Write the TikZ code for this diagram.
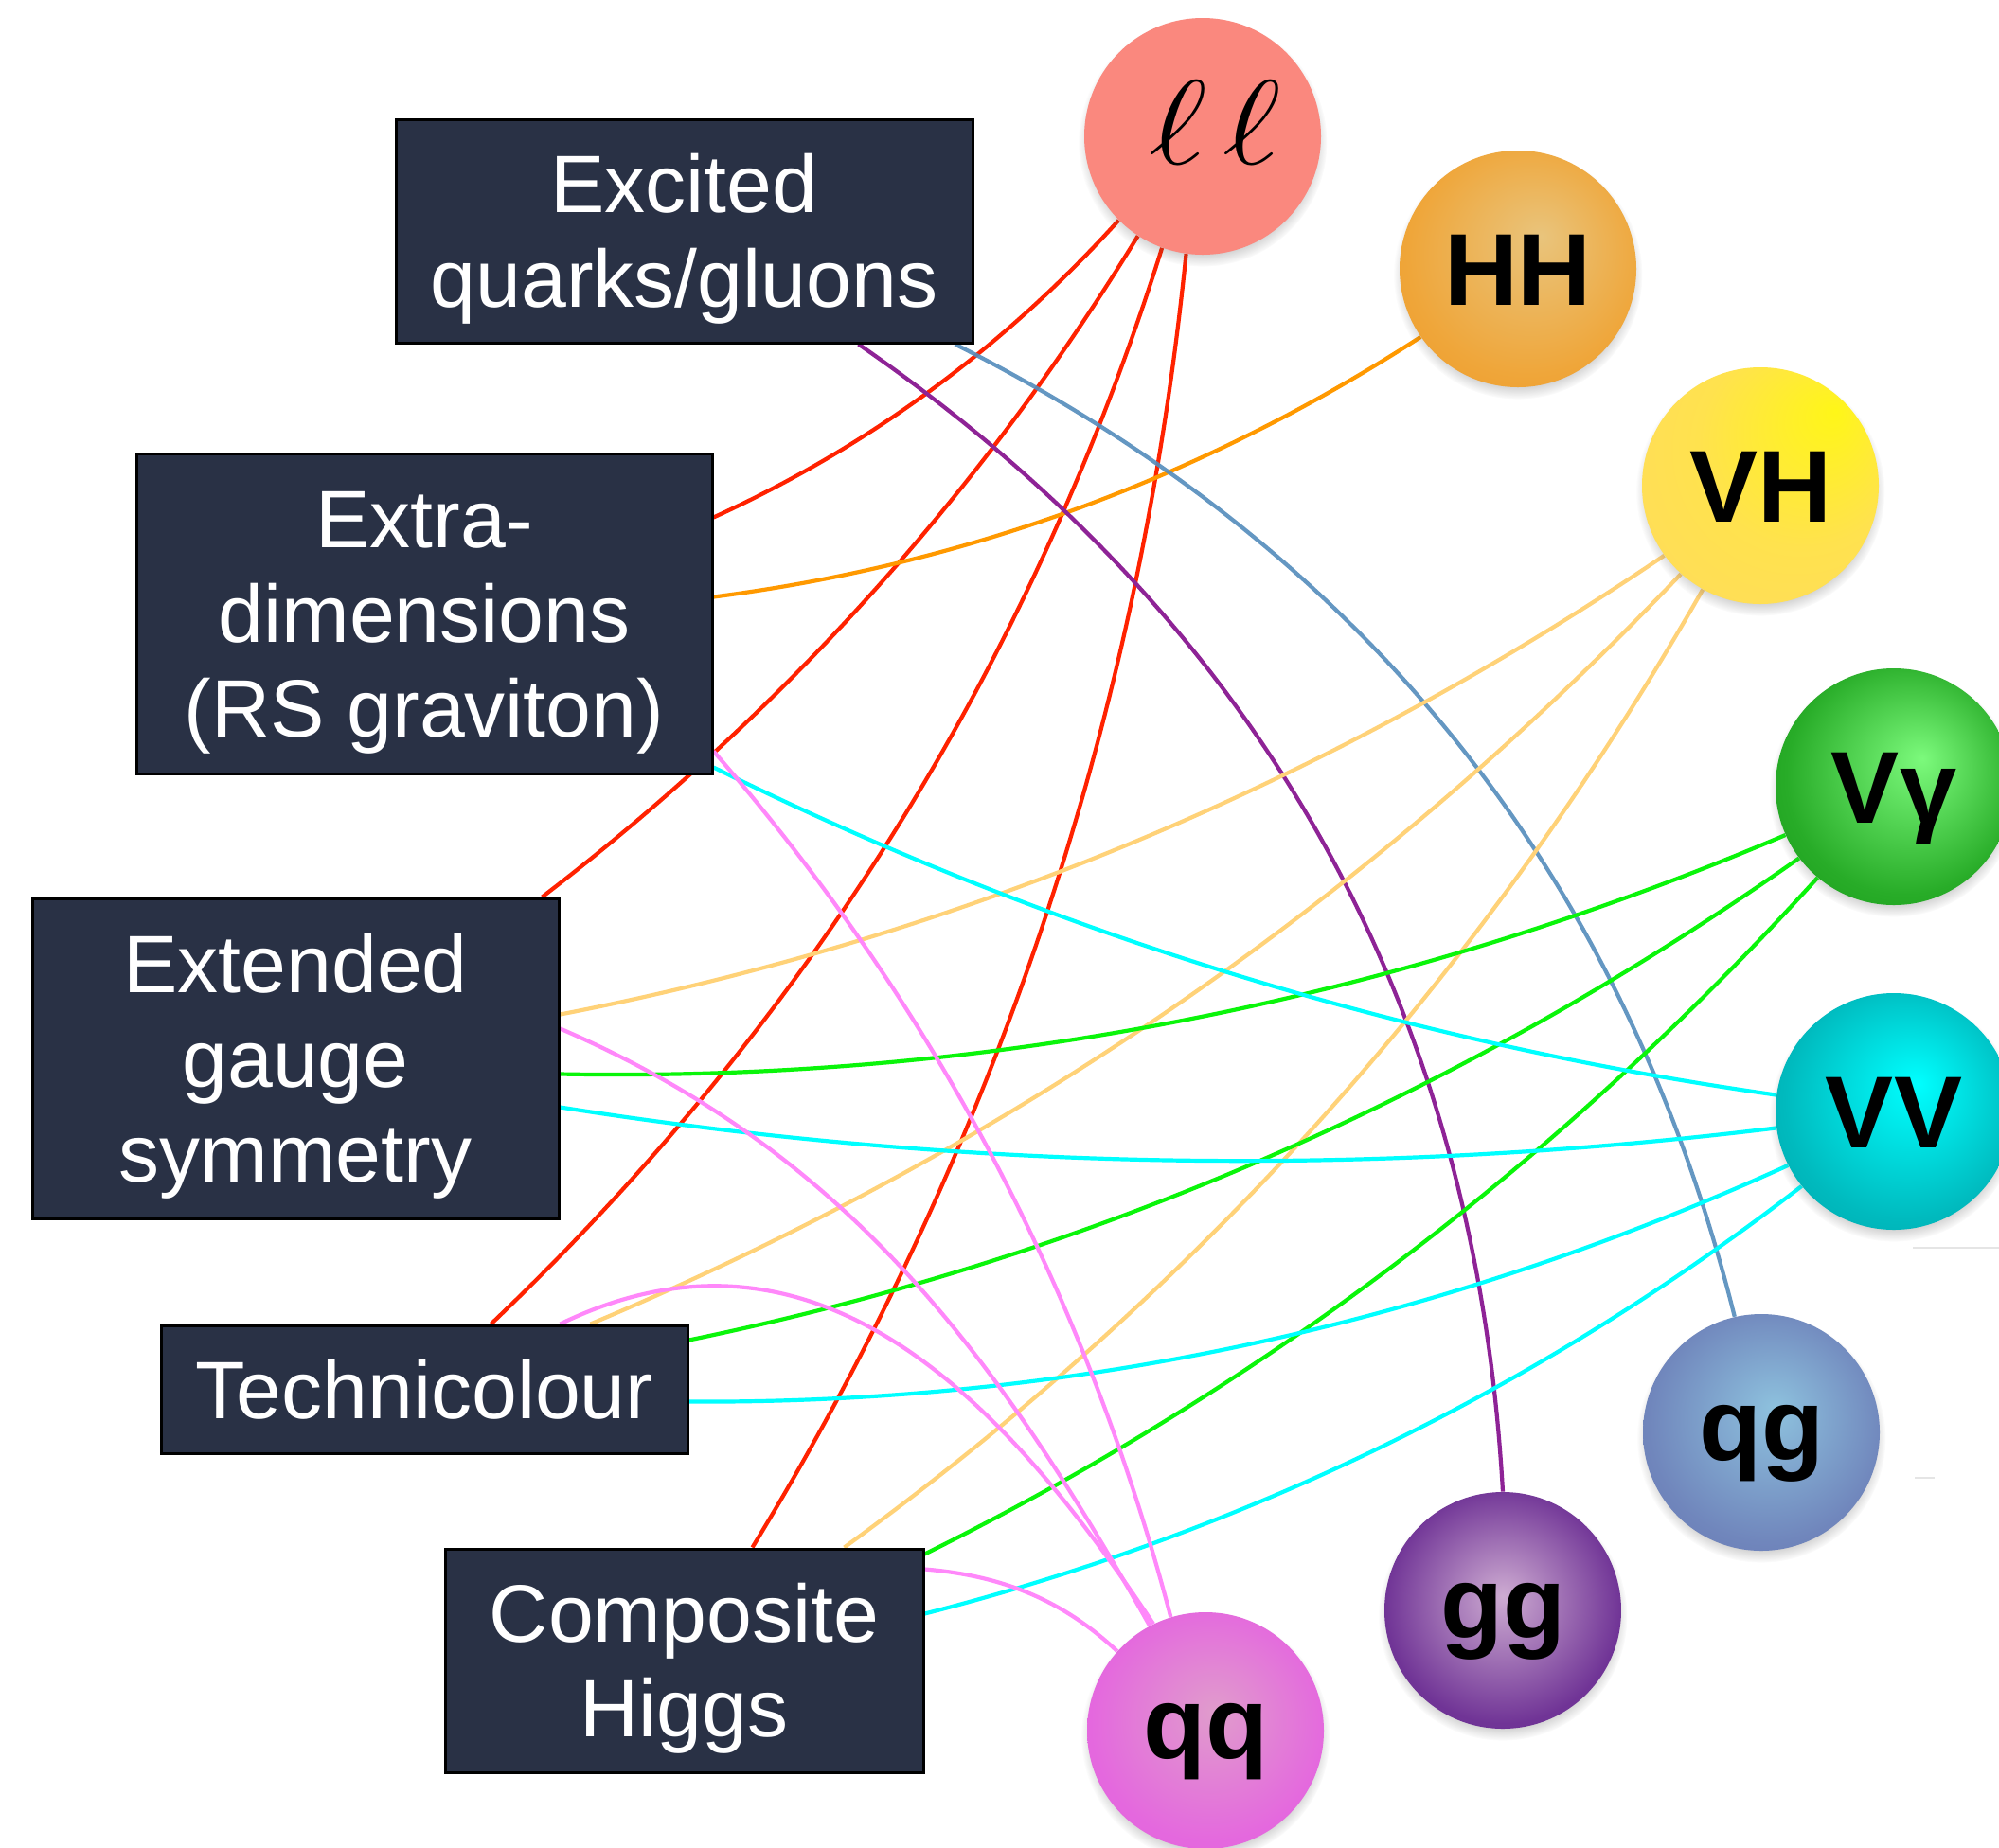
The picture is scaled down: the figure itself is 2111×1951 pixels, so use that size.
\documentclass[tikz,border=0pt]{standalone}
\usepackage{fontspec}
\setmainfont{Liberation Sans}
\usetikzlibrary{calc,shadows,fadings}

% panel and ball colours
\definecolor{panel}{RGB}{41,49,69}
\definecolor{llfill}{RGB}{250,136,126}
\definecolor{hhA}{RGB}{233,196,124}
\definecolor{hhB}{RGB}{239,166,58}
\definecolor{hhC}{RGB}{238,150,34}
\definecolor{vhA}{RGB}{255,246,24}
\definecolor{vhB}{RGB}{255,226,78}
\definecolor{vhC}{RGB}{255,216,100}
\definecolor{vgA}{RGB}{124,250,124}
\definecolor{vgB}{RGB}{40,172,40}
\definecolor{vgC}{RGB}{20,150,20}
\definecolor{vvA}{RGB}{0,255,255}
\definecolor{vvB}{RGB}{0,186,190}
\definecolor{vvC}{RGB}{0,160,165}
\definecolor{qgA}{RGB}{142,194,222}
\definecolor{qgB}{RGB}{112,134,188}
\definecolor{qgC}{RGB}{100,114,176}
\definecolor{ggA}{RGB}{206,172,210}
\definecolor{ggB}{RGB}{112,52,150}
\definecolor{ggC}{RGB}{100,40,144}
\definecolor{qqA}{RGB}{224,156,204}
\definecolor{qqB}{RGB}{228,104,222}
\definecolor{qqC}{RGB}{230,96,226}

% connector colours
\definecolor{wRed}{RGB}{255,34,0}
\definecolor{wOrange}{RGB}{255,153,0}
\definecolor{wPurple}{RGB}{142,35,150}
\definecolor{wSteel}{RGB}{84,140,188}
\definecolor{wSand}{RGB}{255,210,120}
\definecolor{wGreen}{RGB}{10,245,10}
\definecolor{wCyan}{RGB}{0,255,255}
\definecolor{wPink}{RGB}{255,136,250}

% radial shadings for the balls (ball edge sits at 25bp)
\pgfdeclareradialshading{hhshade}{\pgfpoint{5bp}{7bp}}{color(0bp)=(hhA); color(25bp)=(hhB); color(40bp)=(hhC)}
\pgfdeclareradialshading{vhshade}{\pgfpoint{16bp}{16bp}}{color(0bp)=(vhA); color(22bp)=(vhB); color(50bp)=(vhC)}
\pgfdeclareradialshading{vgshade}{\pgfpoint{6bp}{6bp}}{color(0bp)=(vgA); color(25bp)=(vgB); color(40bp)=(vgC)}
\pgfdeclareradialshading{vvshade}{\pgfpoint{5bp}{6bp}}{color(0bp)=(vvA); color(25bp)=(vvB); color(40bp)=(vvC)}
\pgfdeclareradialshading{qgshade}{\pgfpoint{3bp}{5bp}}{color(0bp)=(qgA); color(25bp)=(qgB); color(40bp)=(qgC)}
\pgfdeclareradialshading{ggshade}{\pgfpoint{0bp}{3bp}}{color(0bp)=(ggA); color(25bp)=(ggB); color(40bp)=(ggC)}
\pgfdeclareradialshading{qqshade}{\pgfpoint{2bp}{4bp}}{color(0bp)=(qqA); color(25bp)=(qqB); color(40bp)=(qqC)}

% invisible strut that drops multi-line panel text a little
\newcommand\panelstrut{\rule{0pt}{39.5pt}}

\pgfdeclarelayer{back}
\pgfdeclarelayer{wires}
\pgfsetlayers{back,wires,main}

\begin{document}
\begin{tikzpicture}[x=0.5pt, y=-0.5pt,
  panelbox/.style={draw=black, line width=1.5pt, fill=panel, text=white,
    align=center, inner sep=0pt, font=\fontsize{43}{50}\selectfont},
  orb/.style={circle, minimum size=125pt, inner sep=0pt,
    font=\fontsize{54}{54}\selectfont\bfseries,
    circular drop shadow={shadow xshift=0pt, shadow yshift=-3pt,
      shadow scale=1.05, opacity=0.35, fill=black!70}},
  captxt/.style={text height=38pt, text depth=0pt},
  lowtxt/.style={text height=29pt, text depth=0pt},
  wire/.style={line width=2.1pt}]

\useasboundingbox (0,0) rectangle (2111,1951);
\begin{pgfonlayer}{back}
  \fill[white] (0,0) rectangle (2111,1951);
  % faint rules at the right margin
  \draw[black!10, line width=0.8pt] (2020,1318) -- (2111,1318);
  \draw[black!10, line width=0.8pt] (2022,1561) -- (2043,1561);
\end{pgfonlayer}

% model panels
\node[panelbox, minimum width=304.5pt, minimum height=118pt] (exq) at (722.5,244) {\panelstrut Excited\\quarks/gluons};
\node[panelbox, minimum width=304pt, minimum height=169pt] (exd) at (448,648) {\panelstrut Extra-\\dimensions\\(RS graviton)};
\node[panelbox, minimum width=278pt, minimum height=169pt] (egs) at (312,1118) {\panelstrut Extended\\gauge\\symmetry};
\node[panelbox, minimum width=278pt, minimum height=67.5pt] (tec) at (448,1467.5) {Technicolour};
\node[panelbox, minimum width=252.5pt, minimum height=118pt] (chg) at (722.5,1754) {\panelstrut Composite\\Higgs};

% final-state balls
\node[orb, fill=llfill, text height=29pt, text depth=0pt, font=\normalfont] (ll) at (1270,144) {\kern13pt\scalebox{3.0}[2.55]{\Huge$\ell\mkern2mu\ell$}};
\node[orb, shade, shading=hhshade, captxt] (hh) at (1603,284) {HH};
\node[orb, shade, shading=vhshade, captxt] (vh) at (1859,513) {VH};
\node[orb, shade, shading=vgshade, captxt] (vg) at (2000,831) {Vγ};
\node[orb, shade, shading=vvshade, captxt] (vv) at (2000,1174) {VV};
\node[orb, shade, shading=qgshade, lowtxt] (qg) at (1860,1513) {qg};
\node[orb, shade, shading=ggshade, lowtxt] (gg) at (1587,1701) {gg};
\node[orb, shade, shading=qqshade, lowtxt] (qq) at (1273,1828) {qq};

\begin{pgfonlayer}{wires}
  % dilepton
  \draw[wire, wRed] ($(exd.north east)+(0,69)$) .. controls (917,472) and (1060,367) .. (ll.225);
  \draw[wire, wRed] ($(egs.north east)+(-19,0)$) .. controls (825,754) and (1035,522) .. (ll.237);
  \draw[wire, wRed] ($(tec.north west)+(350,0)$) .. controls (853,1080) and (1089,701) .. (ll.250);
  \draw[wire, wRed] ($(chg.north west)+(326,0)$) .. controls (1051,1214) and (1203,758) .. (ll.262);
  % di-Higgs
  \draw[wire, wOrange] ($(exd.north east)+(0,153)$) .. controls (1022,596) and (1271,504) .. (hh.215);
  % dijet gg and qg
  \draw[wire, wPurple] ($(exq.south west)+(490,0)$) .. controls (1332,657) and (1558,1061) .. (gg.north);
  \draw[wire, wSteel, opacity=0.9] ($(exq.south west)+(592,0)$) .. controls (1440,581) and (1715,923) .. (qg.103);
  % VH
  \draw[wire, wSand] ($(egs.north east)+(0,124)$) .. controls (1012,990) and (1401,828) .. (vh.216);
  \draw[wire, wSand] ($(tec.north west)+(455,0)$) .. controls (1064,1214) and (1448,950) .. (vh.228);
  \draw[wire, wSand] ($(chg.north west)+(423,0)$) .. controls (1267,1362) and (1569,1024) .. (vh.241);
  % V gamma
  \draw[wire, wGreen] ($(egs.north east)+(0,187)$) .. controls (1040,1143) and (1471,1058) .. (vg.204);
  \draw[wire, wGreen] ($(tec.north east)+(0,17)$) .. controls (1152,1328) and (1542,1158) .. (vg.217);
  \draw[wire, wGreen] ($(chg.north east)+(0,7)$) .. controls (1335,1464) and (1649,1225) .. (vg.230);
  % VV
  \draw[wire, wCyan] ($(exd.north east)+(0,333)$) .. controls (1109,986) and (1484,1101) .. (vv.172);
  \draw[wire, wCyan] ($(egs.north east)+(0,222)$) .. controls (1019,1237) and (1448,1244) .. (vv.188);
  \draw[wire, wCyan] ($(tec.north east)+(0,82)$) .. controls (1131,1483) and (1518,1399) .. (vv.207);
  \draw[wire, wCyan] ($(chg.north east)+(0,70)$) .. controls (1315,1618) and (1625,1467) .. (vv.219);
  % dijet qq
  \draw[wire, wPink] ($(exd.north east)+(0,316)$) .. controls (985,1060) and (1146,1364) .. (qq.107);
  \draw[wire, wPink] ($(egs.north east)+(0,139)$) .. controls (894,1217) and (1051,1428) .. (qq.118);
  \draw[wire, wPink] ($(tec.north west)+(423,0)$) .. controls (863,1267) and (1062,1480) .. (qq.116);
  \draw[wire, wPink] ($(chg.north east)+(0,23)$) .. controls (1055,1664) and (1120,1688) .. (qq.138);
\end{pgfonlayer}
\end{tikzpicture}
\end{document}
